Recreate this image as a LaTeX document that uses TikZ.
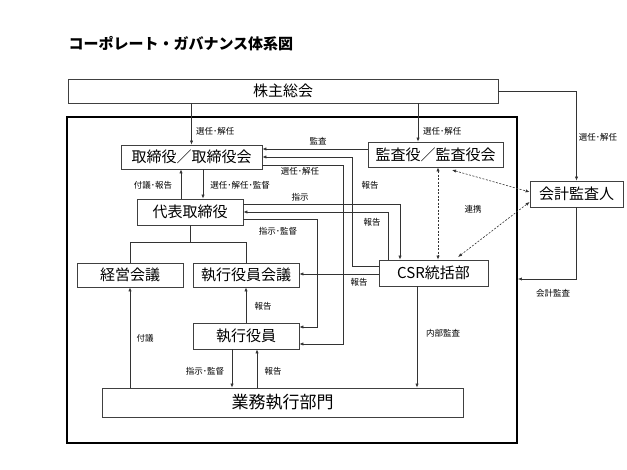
\documentclass[tikz,border=0pt]{standalone}
\usepackage{fontspec}
\setmainfont{Noto Sans CJK JP}
\usetikzlibrary{arrows.meta}

\begin{document}
\begin{tikzpicture}[x=1pt, y=-1pt,
  box/.style={draw=black!75, line width=0.7pt, inner sep=0pt, font=\fontsize{15}{15}\selectfont},
  outerframe/.style={draw=black, line width=1.8pt, inner sep=0pt},
  lbl/.style={font=\fontsize{8.5}{9}\selectfont, inner sep=1pt},
  arr/.style={draw=black!80, line width=0.6pt, -{Latex[length=4pt,width=3.2pt]}},
  link/.style={draw=black!80, line width=0.6pt},
  darr/.style={draw=black!80, line width=0.6pt, dash pattern=on 2pt off 1.5pt, {Latex[length=4pt,width=3.2pt]}-{Latex[length=4pt,width=3.2pt]}}]
  \useasboundingbox (0,0) rectangle (627,470);
  \node[anchor=west, font=\fontsize{15}{15}\selectfont\bfseries] (title) at (65,44) {コーポレート・ガバナンス体系図};
  % boxes
  \node[outerframe, minimum width=450pt, minimum height=326pt] (group) at (292,280) {};
  \node[box, minimum width=430pt, minimum height=24pt] (soukai) at (283,91) {株主総会};
  \node[box, minimum width=141pt, minimum height=24pt] (torishimari) at (191.5,157) {取締役／取締役会};
  \node[box, minimum width=135pt, minimum height=25pt] (kansayaku) at (435.5,154.5) {監査役／監査役会};
  \node[box, minimum width=93pt, minimum height=26pt] (kaikei) at (576.5,194) {会計監査人};
  \node[box, minimum width=106pt, minimum height=26pt] (daihyo) at (190,212) {代表取締役};
  \node[box, minimum width=106pt, minimum height=24pt] (keiei) at (130,275) {経営会議};
  \node[box, minimum width=106pt, minimum height=24pt] (shikkoukaigi) at (246,275) {執行役員会議};
  \node[box, minimum width=109pt, minimum height=26pt] (csr) at (433.5,273) {CSR統括部};
  \node[box, minimum width=106pt, minimum height=26pt] (shikkou) at (246,336) {執行役員};
  \node[box, minimum width=361pt, minimum height=29pt, font=\fontsize{17}{17}\selectfont] (gyomu) at (282.5,402.5) {業務執行部門};
  % shareholders
  \draw[arr] (soukai.south -| torishimari.north) -- (torishimari.north);
  \node[lbl, anchor=west] (l1) at (195,131) {選任･解任};
  \draw[arr] (soukai.south -| 418,0) -- (kansayaku.north -| 418,0);
  \node[lbl, anchor=west] (l2) at (422,131) {選任･解任};
  \draw[arr] (soukai.east) -| (kaikei.north);
  \node[lbl] (l3) at (598,137) {選任･解任};
  % board
  \draw[arr] (kansayaku.west |- 0,149) -- (torishimari.east |- 0,149);
  \node[lbl] (l4) at (318,141) {監査};
  \draw[arr] (csr.west |- 0,266) -| (352,157) -- (torishimari.east |- 0,157);
  \node[lbl] (l5) at (370,185) {報告};
  \draw[arr] (torishimari.east |- 0,165) -| (343,344) -- (shikkou.east |- 0,344);
  \node[lbl] (l6) at (300,171) {選任･解任};
  \draw[arr] (daihyo.north -| 181,0) -- (torishimari.south -| 181,0);
  \node[lbl] (l7) at (153,185) {付議･報告};
  \draw[arr] (torishimari.south -| 203,0) -- (daihyo.north -| 203,0);
  \node[lbl] (l8) at (240,185) {選任･解任･監督};
  % representative director
  \draw[arr] (daihyo.east |- 0,204) -| (csr.north -| 400,0);
  \node[lbl] (l9) at (300,197) {指示};
  \draw[arr] (csr.north -| 388,0) |- (daihyo.east |- 0,212);
  \node[lbl] (l10) at (372,222) {報告};
  \draw[arr] (daihyo.east |- 0,219) -| (317,327) -- (shikkou.east |- 0,327);
  \node[lbl] (l11) at (278,231) {指示･監督};
  \draw[link] (daihyo.south) -- (daihyo.south |- 0,242);
  \draw[link] (keiei.north) -- (keiei.north |- 0,242) -- (shikkoukaigi.north |- 0,242) -- (shikkoukaigi.north);
  % executive
  \draw[arr] (csr.west |- 0,274) -- (shikkoukaigi.east |- 0,274);
  \node[lbl] (l12) at (359,282) {報告};
  \draw[arr] (shikkou.north) -- (shikkoukaigi.south);
  \node[lbl] (l13) at (263,306) {報告};
  \draw[arr] (gyomu.north -| keiei.south) -- (keiei.south);
  \node[lbl] (l14) at (145,338) {付議};
  \draw[arr] (shikkou.south -| 232,0) -- (gyomu.north -| 232,0);
  \node[lbl] (l15) at (205,371) {指示･監督};
  \draw[arr] (gyomu.north -| 257,0) -- (shikkou.south -| 257,0);
  \node[lbl] (l16) at (273,371) {報告};
  \draw[arr] (csr.south -| 417,0) -- (gyomu.north -| 417,0);
  \node[lbl] (l17) at (443,333) {内部監査};
  % auditors
  \draw[arr] (kaikei.south) |- (group.east |- 0,279);
  \node[lbl] (l18) at (553,293) {会計監査};
  \draw[darr] (kansayaku.south -| 438,0) -- (csr.north -| 438,0);
  \draw[darr] (452,170) -- (kaikei.west |- 0,192);
  \draw[darr] (458,257) -- (kaikei.west |- 0,202);
  \node[lbl] (l19) at (473,209) {連携};
\end{tikzpicture}
\end{document}
